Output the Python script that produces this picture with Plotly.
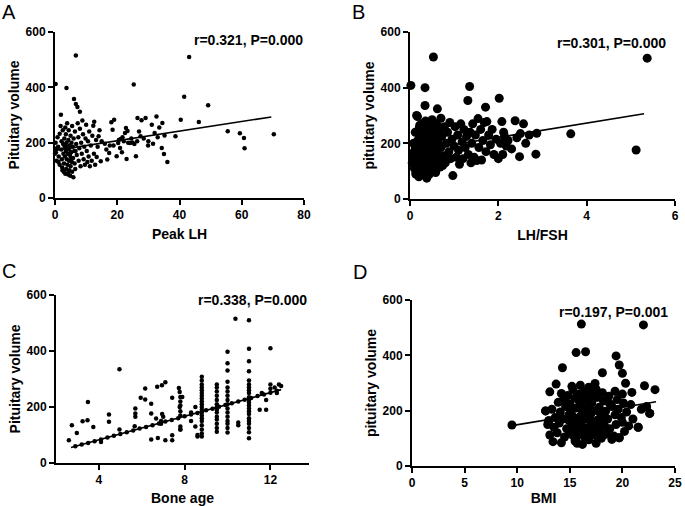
import plotly.graph_objects as go

# ---------------- data ----------------
# Panel A: Peak LH vs pituitary volume
a_x = [0.2,0.3,0.5,0.8,1.0,1.2,1.5,1.5,1.8,1.9,2.0,2.1,2.2,2.3,2.5,2.6,2.7,2.8,2.9,3.0,3.1,3.2,3.3,3.3,3.5,3.5,3.6,3.7,3.8,3.9,
       4.0,4.0,4.1,4.2,4.3,4.4,4.5,4.5,4.6,4.7,4.8,4.9,5.0,5.0,5.2,5.3,5.4,5.5,5.5,5.7,5.8,5.9,6.0,6.1,6.2,6.3,6.4,6.5,6.7,6.7,
       6.8,7.0,7.2,7.3,7.5,7.6,7.8,8.0,8.0,8.2,8.4,8.6,8.8,9.0,9.2,9.4,9.6,9.8,10.0,10.2,10.4,10.6,10.8,11.0,11.2,11.5,11.8,12.0,12.3,12.5,
       12.6,12.9,13.2,13.4,13.7,14.0,14.3,14.7,15.0,0.2,3.7,0.0,0.6,1.1,2.4,3.4,4.2,5.1,6.6,
       16.0,16.5,16.8,17.4,17.6,18.1,18.5,18.8,19.0,19.8,20.3,20.5,20.9,21.1,21.5,21.7,22.1,22.5,22.8,23.0,23.3,23.5,24.1,24.5,24.9,25.3,25.5,
       26.0,26.4,26.5,27.0,27.5,27.8,28.5,29.1,29.9,30.0,31.1,31.5,32.0,32.6,33.0,33.5,34.3,34.5,35.0,35.2,36.1,38.7,40.4,41.5,43.1,46.2,49.2,
       55.5,59.4,60.7,60.9,70.3]
a_y = [200,165,135,220,185,150,232,120,260,301,175,205,140,110,245,195,160,95,125,215,185,150,255,88,170,230,105,200,140,270,
       180,120,160,90,210,245,135,175,100,190,155,80,225,115,165,200,130,95,260,185,145,75,215,358,170,125,240,105,340,515,
       195,155,329,270,220,135,180,312,250,115,200,160,280,230,140,185,120,215,265,170,130,205,150,240,115,190,135,225,261,160,
       276,120,210,148,185,223,245,133,205,412,398,160,180,130,100,190,85,145,170,
       196,175,139,163,190,274,247,190,283,151,199,210,181,213,165,220,205,235,253,141,242,200,199,215,201,410,195,
       151,205,289,240,223,281,215,289,190,205,265,196,235,295,220,255,181,271,159,226,130,223,283,366,510,275,335,
       241,234,217,180,230]
a_fit_x = [0.0, 69.5]
a_fit_y = [172, 293]

# Panel B: LH/FSH vs pituitary volume
b_x = [0.02,0.05,0.06,0.08,0.10,0.10,0.12,0.12,0.14,0.15,0.15,0.17,0.18,0.18,0.20,0.20,0.21,0.22,0.23,0.24,0.25,0.26,0.27,0.28,0.29,
       0.30,0.30,0.31,0.32,0.33,0.34,0.34,0.34,0.35,0.36,0.37,0.38,0.39,0.40,0.41,0.42,0.43,0.44,0.45,0.46,0.47,0.48,0.50,0.50,0.52,
       0.53,0.54,0.55,0.56,0.58,0.60,0.60,0.62,0.63,0.65,0.66,0.68,0.70,0.70,0.72,0.75,0.78,0.80,0.82,0.85,0.88,0.90,0.92,0.95,0.97,
       1.00,1.02,1.05,1.08,1.10,1.12,1.15,1.18,1.20,1.22,1.25,1.28,1.31,1.32,1.35,1.36,1.38,1.40,1.42,1.45,1.48,1.51,1.54,1.56,1.60,
       1.62,1.65,1.68,1.71,1.72,1.74,1.78,1.82,1.86,1.90,1.95,2.02,2.00,2.05,2.08,2.10,2.12,2.14,2.18,2.22,2.30,2.38,2.42,2.48,2.50,
       2.57,2.62,2.70,2.85,2.87,3.64,5.12,5.37,
       0.07,0.11,0.16,0.19,0.24,0.27,0.33,0.36,0.41,0.45,0.49,0.57,0.64,0.74,0.13,0.22,0.29,0.39,0.46,0.58]
b_y = [408,130,165,200,110,145,240,185,95,160,300,296,210,125,80,175,255,140,105,225,190,150,270,88,120,
       205,165,240,135,100,400,336,180,280,215,150,75,250,195,120,170,265,90,230,140,200,110,285,160,245,
       510,185,130,220,95,270,170,324,205,145,240,115,290,185,225,155,260,130,200,240,170,275,145,215,84,
       190,260,150,230,175,125,270,205,145,250,185,225,354,160,404,240,130,200,270,150,230,138,289,185,250,
       140,210,275,330,170,278,230,195,250,160,215,362,145,200,278,160,240,225,190,210,180,281,220,152,235,
       270,200,230,161,236,234,176,506,
       150,200,120,235,160,215,185,110,240,175,130,195,260,120,90,265,210,145,180,100]
b_fit_x = [0.0, 5.3]
b_fit_y = [170, 306]

# Panel C: Bone age vs pituitary volume
c_x = [2.9,3.2,3.5,3.8,4.1,4.4,4.7,5.0,5.3,5.6,5.9,6.2,6.5,6.8,7.1,7.4,7.7,8.0,8.3,8.6,9.0,9.3,9.6,9.9,10.2,10.5,10.8,11.1,11.4,11.7,12.0,12.3,
       11.6,11.8,11.8,12.0,12.0,12.2,12.4,12.5,12.3,
       2.6,2.74,2.97,3.24,3.47,3.49,3.74,4.1,4.47,4.47,4.96,4.96,5.67,5.7,5.7,5.7,5.95,6.16,6.16,6.44,6.44,6.44,6.67,6.72,6.75,6.94,7.1,7.1,
       7.42,7.42,7.42,7.73,7.77,7.77,7.89,6.9,6.9,6.95,7.0,
       7.8,7.8,7.8,7.8,7.8,7.8,7.8,7.8,
       8.3,8.3,8.5,8.5,8.6,8.6,
       8.8,8.8,8.8,8.8,8.8,8.8,8.8,8.8,8.8,8.8,8.8,8.8,8.8,8.8,8.8,8.8,8.8,8.8,8.8,8.8,
       9.5,9.5,9.5,9.5,9.5,9.5,9.5,9.5,9.5,9.5,9.5,9.5,9.5,9.5,
       10.0,10.0,10.0,10.0,10.0,10.0,10.0,10.0,10.0,10.0,10.0,10.0,10.0,10.0,10.0,10.0,
       10.5,10.5,10.37,
       11.0,11.0,11.0,11.0,11.0,11.0,11.0,11.0,11.0,11.0,11.0,11.0,11.0,11.0,11.0,11.0,11.0,11.0,11.0,11.0,11.0,11.0,
       11.5,12.0]
c_y = [60,66,71,78,84,91,97,104,110,116,123,129,135,141,148,154,160,167,173,179,188,194,201,207,213,220,226,232,239,245,251,258,
       250,225,190,265,280,270,280,275,250,
       81,135,107,149,153,218,129,75,147,173,120,335,131,195,177,165,233,266,227,212,84,177,159,272,89,278,288,81,
       233,99,81,268,254,200,236,150,140,175,165,
       120,130,170,185,205,220,236,120,
       150,180,200,130,100,95,
       95,105,120,135,150,160,170,180,190,200,210,220,230,240,250,260,270,280,295,308,
       112,125,140,155,165,180,190,200,210,225,240,255,270,280,
       109,125,140,150,165,180,195,210,225,240,255,270,290,330,356,397,
       145,135,515,
       88,110,125,140,150,160,175,185,195,205,215,225,235,250,260,270,280,295,328,363,408,510,
       190,410]
c_fit_x = [2.7, 12.5]
c_fit_y = [55, 262]

# Panel D: BMI vs pituitary volume
d_x = [13.4,14.2,15.5,15.7,16.2,16.8,17.5,18.0,19.0,19.7,
       13.1,13.8,14.5,15.0,15.3,15.9,16.4,17.0,17.3,17.9,18.5,19.2,20.2,21.5,
       12.9,13.5,14.0,14.7,15.2,15.8,16.1,16.6,17.2,17.7,18.2,18.8,19.4,20.0,20.6,
       13.0,13.6,14.3,14.9,15.4,16.0,16.5,17.0,17.6,18.1,18.6,19.3,19.9,21.0,
       12.7,13.3,14.1,14.6,15.1,15.6,16.2,16.8,17.3,17.8,18.4,19.0,19.6,20.4,22.3,22.6,21.8,
       13.9,14.4,15.0,15.5,16.0,16.6,17.1,17.6,18.2,18.8,19.5,20.1,20.8,
       14.2,14.8,15.3,15.9,16.4,17.0,17.5,18.1,18.7,19.3,20.0,
       15.2,16.0,16.8,17.4,
       15.7,16.3,16.9,17.4,15.2,16.7,17.9,15.9,16.5,17.2,16.1,15.4,18.3,14.9,15.6,16.9,
       9.5,16.1,22.0,15.6,16.5,14.3,19.4,19.7,20.0,18.1,13.7,13.1,20.3,20.9,22.1,23.1,21.5,22.6,22.3,19.7,13.0,12.7]
d_y = [88,84,90,82,78,95,82,100,96,102,
       112,120,105,125,110,118,105,128,112,122,115,108,125,140,
       150,140,155,135,150,142,160,138,155,145,160,135,150,158,145,
       164,175,170,185,168,180,172,188,165,180,170,185,175,170,
       199,205,195,215,200,210,195,218,200,212,198,215,205,195,214,190,205,
       230,240,225,245,232,240,228,248,235,225,240,228,222,
       262,255,275,260,270,255,278,265,252,270,260,
       288,292,285,298,
       150,130,165,140,185,205,190,235,250,270,215,130,145,165,100,110,
       148,513,510,410,413,355,398,365,335,337,296,268,299,266,290,276,140,190,214,102,164,199]
d_fit_x = [9.5, 23.2]
d_fit_y = [146, 232]

# ---------------- figure ----------------
W, H = 685, 506
FONT = "Liberation Sans, Arial, sans-serif"

def px_dom(x0, x1):
    return [x0 / W, x1 / W]

def py_dom(y_top, y_bot):
    return [1 - y_bot / H, 1 - y_top / H]

def px(x):
    return x / W

def py(y):
    return 1 - y / H

panels = [
    dict(x=a_x, y=a_y, fx=a_fit_x, fy=a_fit_y, size=4.5, xr=[0, 80], xt=[0, 20, 40, 60, 80],
         xtitle="Peak LH", ytitle="Pituitary volume", xd=px_dom(55, 304), yd=py_dom(32, 198)),
    dict(x=b_x, y=b_y, fx=b_fit_x, fy=b_fit_y, size=9, xr=[0, 6], xt=[0, 2, 4, 6],
         xtitle="LH/FSH", ytitle="pituitary volume", xd=px_dom(410, 675), yd=py_dom(32, 199)),
    dict(x=c_x, y=c_y, fx=c_fit_x, fy=c_fit_y, size=4.5, xr=[2, 13.8], xt=[4, 8, 12],
         xtitle="Bone age", ytitle="Pituitary volume", xd=px_dom(56, 309), yd=py_dom(295, 463)),
    dict(x=d_x, y=d_y, fx=d_fit_x, fy=d_fit_y, size=9, xr=[0, 25], xt=[0, 5, 10, 15, 20, 25],
         xtitle="BMI", ytitle="pituitary volume", xd=px_dom(412, 675), yd=py_dom(300, 466)),
]

fig = go.Figure()
layout = {}
for i, p in enumerate(panels, start=1):
    xa = "x" if i == 1 else f"x{i}"
    ya = "y" if i == 1 else f"y{i}"
    fig.add_trace(go.Scatter(x=p["x"], y=p["y"], mode="markers", xaxis=xa, yaxis=ya,
                             marker=dict(color="black", size=p["size"], line=dict(width=0)),
                             cliponaxis=False, showlegend=False, hoverinfo="skip"))
    fig.add_trace(go.Scatter(x=p["fx"], y=p["fy"], mode="lines", xaxis=xa, yaxis=ya,
                             line=dict(color="black", width=1.6), cliponaxis=False,
                             showlegend=False, hoverinfo="skip"))
    axcommon = dict(showline=True, linecolor="black", linewidth=2, ticks="outside", ticklen=5,
                    tickwidth=2, tickcolor="black", showgrid=False, zeroline=False, automargin=False,
                    tickfont=dict(family=FONT, size=12, color="black", weight="bold"))
    layout[("xaxis" if i == 1 else f"xaxis{i}")] = dict(
        domain=p["xd"], range=p["xr"], tickvals=p["xt"], anchor=ya,
        title=dict(text=p["xtitle"], font=dict(family=FONT, size=14, color="black", weight="bold"), standoff=8),
        **axcommon)
    layout[("yaxis" if i == 1 else f"yaxis{i}")] = dict(
        domain=p["yd"], range=[0, 600], tickvals=[0, 200, 400, 600], anchor=xa,
        title=dict(text=p["ytitle"], font=dict(family=FONT, size=14, color="black", weight="bold"), standoff=3),
        **axcommon)

fig.update_layout(width=W, height=H, margin=dict(l=0, r=0, t=0, b=0, autoexpand=False),
                  plot_bgcolor="white", paper_bgcolor="white", **layout)

stats = ["r=0.321, P=0.000", "r=0.301, P=0.000", "r=0.338, P=0.000", "r=0.197, P=0.001"]
stat_pos = [(305, 40), (668, 43), (309, 300), (670, 312)]
letters = ["A", "B", "C", "D"]
letter_pos = [(0, 12), (350, 12), (0, 271), (351, 272)]
for s, (x, y) in zip(stats, stat_pos):
    fig.add_annotation(text=s, x=px(x), y=py(y), xref="paper", yref="paper", showarrow=False,
                       xanchor="right", yanchor="middle",
                       font=dict(family=FONT, size=14, color="black", weight="bold"))
for s, (x, y) in zip(letters, letter_pos):
    fig.add_annotation(text=s, x=px(x), y=py(y), xref="paper", yref="paper", showarrow=False,
                       xanchor="left", yanchor="middle",
                       font=dict(family=FONT, size=20, color="black"))

# remove the default page margin so the figure sits at the window's top-left corner
fig.write_html("out.html", config={"displayModeBar": False},
               post_script="document.body.style.margin='0';")
